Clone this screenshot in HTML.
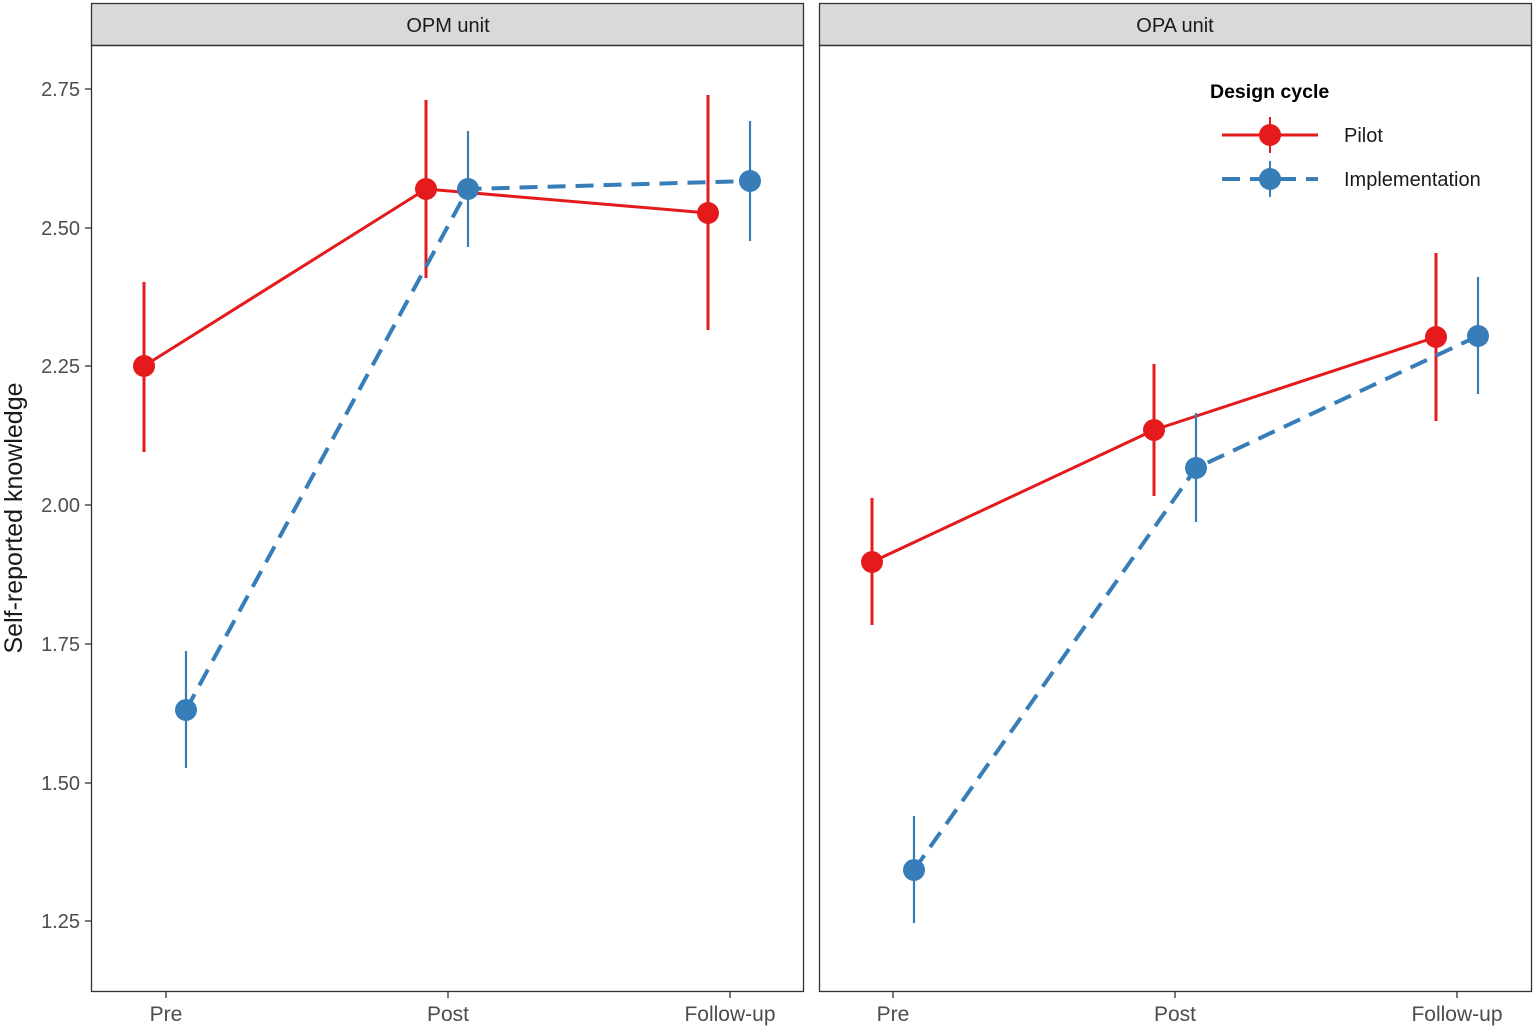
<!DOCTYPE html>
<html><head><meta charset="utf-8"><style>html,body{margin:0;padding:0;background:#fff}</style></head>
<body>
<svg width="1535" height="1027" xmlns="http://www.w3.org/2000/svg" font-family="Liberation Sans, sans-serif">
<rect width="1535" height="1027" fill="#fff"/>
<rect x="91.5" y="3.5" width="712" height="42" fill="#d9d9d9" stroke="#333" stroke-width="1.3"/>
<rect x="819.5" y="3.5" width="712" height="42" fill="#d9d9d9" stroke="#333" stroke-width="1.3"/>
<text x="448" y="32" font-size="20" text-anchor="middle" fill="#1a1a1a">OPM unit</text>
<text x="1175" y="32" font-size="20" text-anchor="middle" fill="#1a1a1a">OPA unit</text>
<rect x="91.5" y="45.5" width="712" height="946" fill="none" stroke="#333" stroke-width="1.3"/>
<rect x="819.5" y="45.5" width="712" height="946" fill="none" stroke="#333" stroke-width="1.3"/>
<g stroke="#333" stroke-width="1.3">
<line x1="85" x2="91" y1="89" y2="89"/><line x1="85" x2="91" y1="228" y2="228"/><line x1="85" x2="91" y1="366" y2="366"/><line x1="85" x2="91" y1="505" y2="505"/><line x1="85" x2="91" y1="644" y2="644"/><line x1="85" x2="91" y1="783" y2="783"/><line x1="85" x2="91" y1="921" y2="921"/>
<line x1="166" x2="166" y1="992" y2="998"/><line x1="448" x2="448" y1="992" y2="998"/><line x1="730" x2="730" y1="992" y2="998"/>
<line x1="893" x2="893" y1="992" y2="998"/><line x1="1175" x2="1175" y1="992" y2="998"/><line x1="1457" x2="1457" y1="992" y2="998"/>
</g>
<g font-size="20" fill="#4d4d4d" text-anchor="end">
<text x="80" y="96">2.75</text><text x="80" y="235">2.50</text><text x="80" y="373">2.25</text><text x="80" y="512">2.00</text><text x="80" y="651">1.75</text><text x="80" y="790">1.50</text><text x="80" y="928">1.25</text>
</g>
<g font-size="21" fill="#4d4d4d" text-anchor="middle">
<text x="166" y="1021">Pre</text><text x="448" y="1021">Post</text><text x="730" y="1021">Follow-up</text>
<text x="893" y="1021">Pre</text><text x="1175" y="1021">Post</text><text x="1457" y="1021">Follow-up</text>
</g>
<text transform="translate(22,518) rotate(-90)" font-size="25" text-anchor="middle" fill="#1a1a1a">Self-reported knowledge</text>
<g stroke="#e41a1c" stroke-width="3" fill="none">
<polyline points="144,366 426,189 708,213"/>
<polyline points="872,562 1154,430 1436,337"/>
<line x1="144" x2="144" y1="282" y2="452"/><line x1="426" x2="426" y1="100" y2="278"/><line x1="708" x2="708" y1="95" y2="330"/>
<line x1="872" x2="872" y1="498" y2="625"/><line x1="1154" x2="1154" y1="364" y2="496"/><line x1="1436" x2="1436" y1="253" y2="421"/>
</g>
<g fill="#e41a1c">
<circle cx="144" cy="366" r="11"/><circle cx="426" cy="189" r="11"/><circle cx="708" cy="213" r="11"/>
<circle cx="872" cy="562" r="11"/><circle cx="1154" cy="430" r="11"/><circle cx="1436" cy="337" r="11"/>
</g>
<g stroke="#377eb8" stroke-width="2.2" fill="none">
<line x1="186" x2="186" y1="651" y2="768"/><line x1="468" x2="468" y1="131" y2="247"/><line x1="750" x2="750" y1="121" y2="241"/>
<line x1="914" x2="914" y1="816" y2="923"/><line x1="1196" x2="1196" y1="413" y2="522"/><line x1="1478" x2="1478" y1="277" y2="394"/>
</g>
<g stroke="#377eb8" stroke-width="4" fill="none" stroke-dasharray="18,10">
<polyline points="186,710 468,189 750,181"/>
<polyline points="914,870 1196,468 1478,336"/>
</g>
<g fill="#377eb8">
<circle cx="186" cy="710" r="11"/><circle cx="468" cy="189" r="11"/><circle cx="750" cy="181" r="11"/>
<circle cx="914" cy="870" r="11"/><circle cx="1196" cy="468" r="11"/><circle cx="1478" cy="336" r="11"/>
</g>
<text x="1210" y="98" font-size="19.5" font-weight="bold" fill="#000">Design cycle</text>
<line x1="1222" x2="1318" y1="135" y2="135" stroke="#e41a1c" stroke-width="3"/>
<line x1="1270" x2="1270" y1="117" y2="153" stroke="#e41a1c" stroke-width="2"/>
<circle cx="1270" cy="135" r="11" fill="#e41a1c"/>
<text x="1344" y="142" font-size="20" fill="#1a1a1a">Pilot</text>
<line x1="1222" x2="1318" y1="179" y2="179" stroke="#377eb8" stroke-width="4" stroke-dasharray="18,10"/>
<line x1="1270" x2="1270" y1="161" y2="197" stroke="#377eb8" stroke-width="2"/>
<circle cx="1270" cy="179" r="11" fill="#377eb8"/>
<text x="1344" y="186" font-size="20" fill="#1a1a1a">Implementation</text>
</svg>
</body></html>
